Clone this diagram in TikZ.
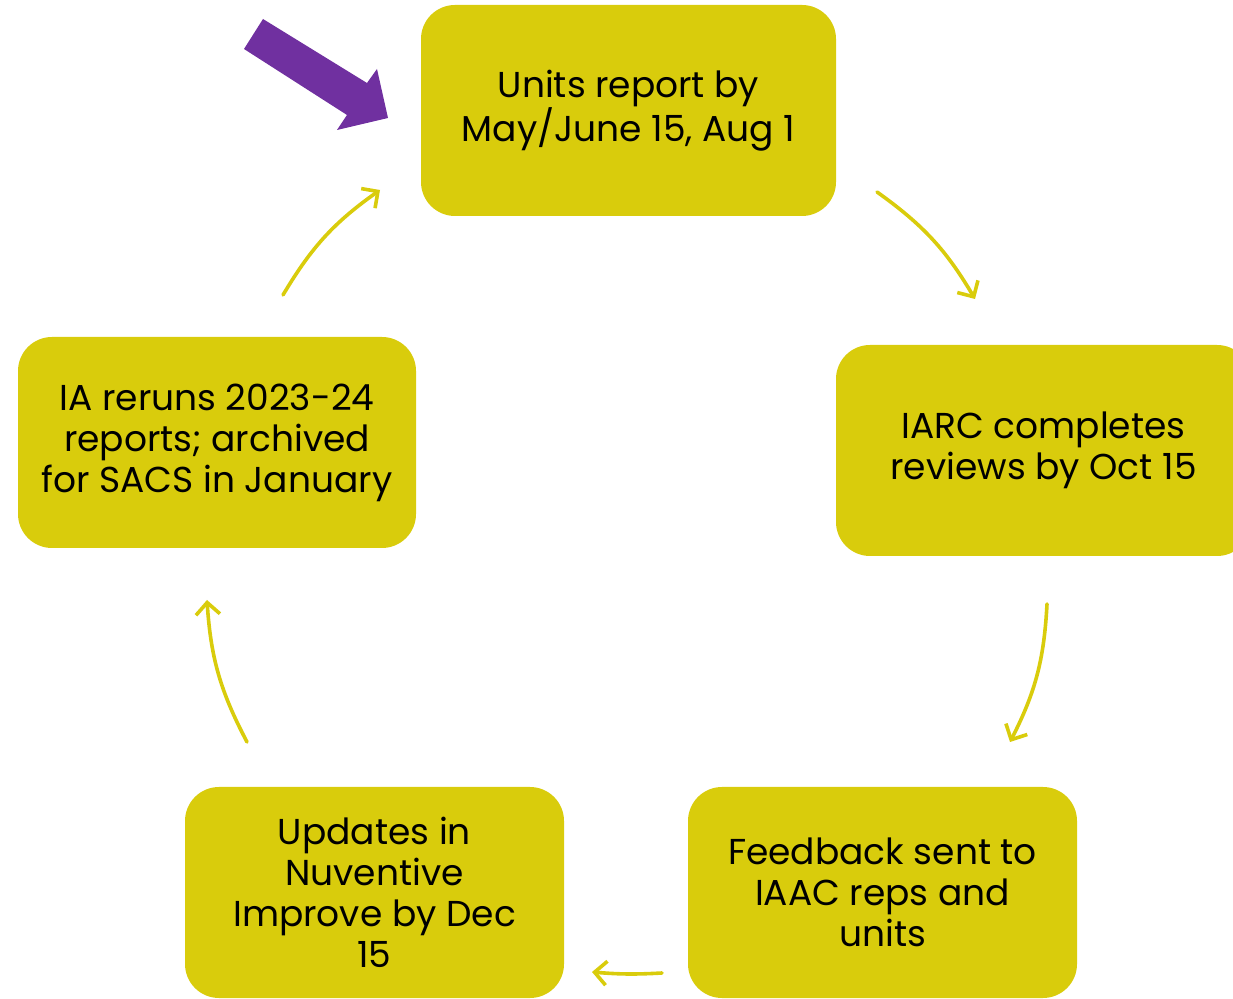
\documentclass[tikz,border=0pt]{standalone}
\usepackage{fontspec}
\setmainfont{Poppins}
\usetikzlibrary{arrows.meta}
\definecolor{boxyellow}{HTML}{D9CC0C}
\definecolor{arrowpurple}{HTML}{7030A0}
\tikzset{
  stepbox/.style={fill=boxyellow, draw=none, rounded corners=34pt, align=center,
    font=\fontsize{36}{41}\selectfont, text=black, inner sep=0pt},
  cyc/.style={draw=boxyellow, line width=3.6pt, line cap=round,
    -{Straight Barb[length=12pt,width=24pt,line width=3.6pt]}}
}
\begin{document}
\begin{tikzpicture}[x=1pt,y=1pt]
\useasboundingbox (0,0) rectangle (1233,998);
\clip (0,0) rectangle (1233,998);
\node[stepbox, minimum width=415pt, minimum height=211pt] (units) at (628.5,887.5) {Units report by\\May/June 15, Aug 1};
\node[stepbox, minimum width=415pt, minimum height=211pt] (iarc) at (1043.5,547.5) {IARC completes\\reviews by Oct 15};
\node[stepbox, minimum width=389pt, minimum height=211pt] (feedback) at (882.5,105.5) {Feedback sent to\\IAAC reps and\\units};
\node[stepbox, minimum width=379pt, minimum height=211pt] (updates) at (374.5,105.5) {Updates in\\Nuventive\\Improve by Dec\\15};
\node[stepbox, minimum width=398pt, minimum height=211pt] (ia) at (217,555.5) {IA reruns 2023-24\\reports; archived\\for SACS in January};
\coordinate (a1s) at (877,806); \coordinate (a1e) at (975,699);
\coordinate (a2s) at (1047,394); \coordinate (a2e) at (1010,256);
\coordinate (a3s) at (662,25); \coordinate (a3e) at (592,26);
\coordinate (a4s) at (247,256); \coordinate (a4e) at (207,398);
\coordinate (a5s) at (283,703); \coordinate (a5e) at (380,808);
\draw[cyc] (a1s) to[bend left=12] (a1e);
\draw[cyc] (a2s) to[bend left=12] (a2e);
\draw[cyc] (a3s) to[bend left=4] (a3e);
\draw[cyc] (a4s) to[bend left=12] (a4e);
\draw[cyc] (a5s) to[bend left=12] (a5e);
\fill[arrowpurple] (263,979) -- (367,915) -- (377,929) -- (388,880) -- (337,868) -- (347,883) -- (244,949) -- cycle;
\end{tikzpicture}
\end{document}
